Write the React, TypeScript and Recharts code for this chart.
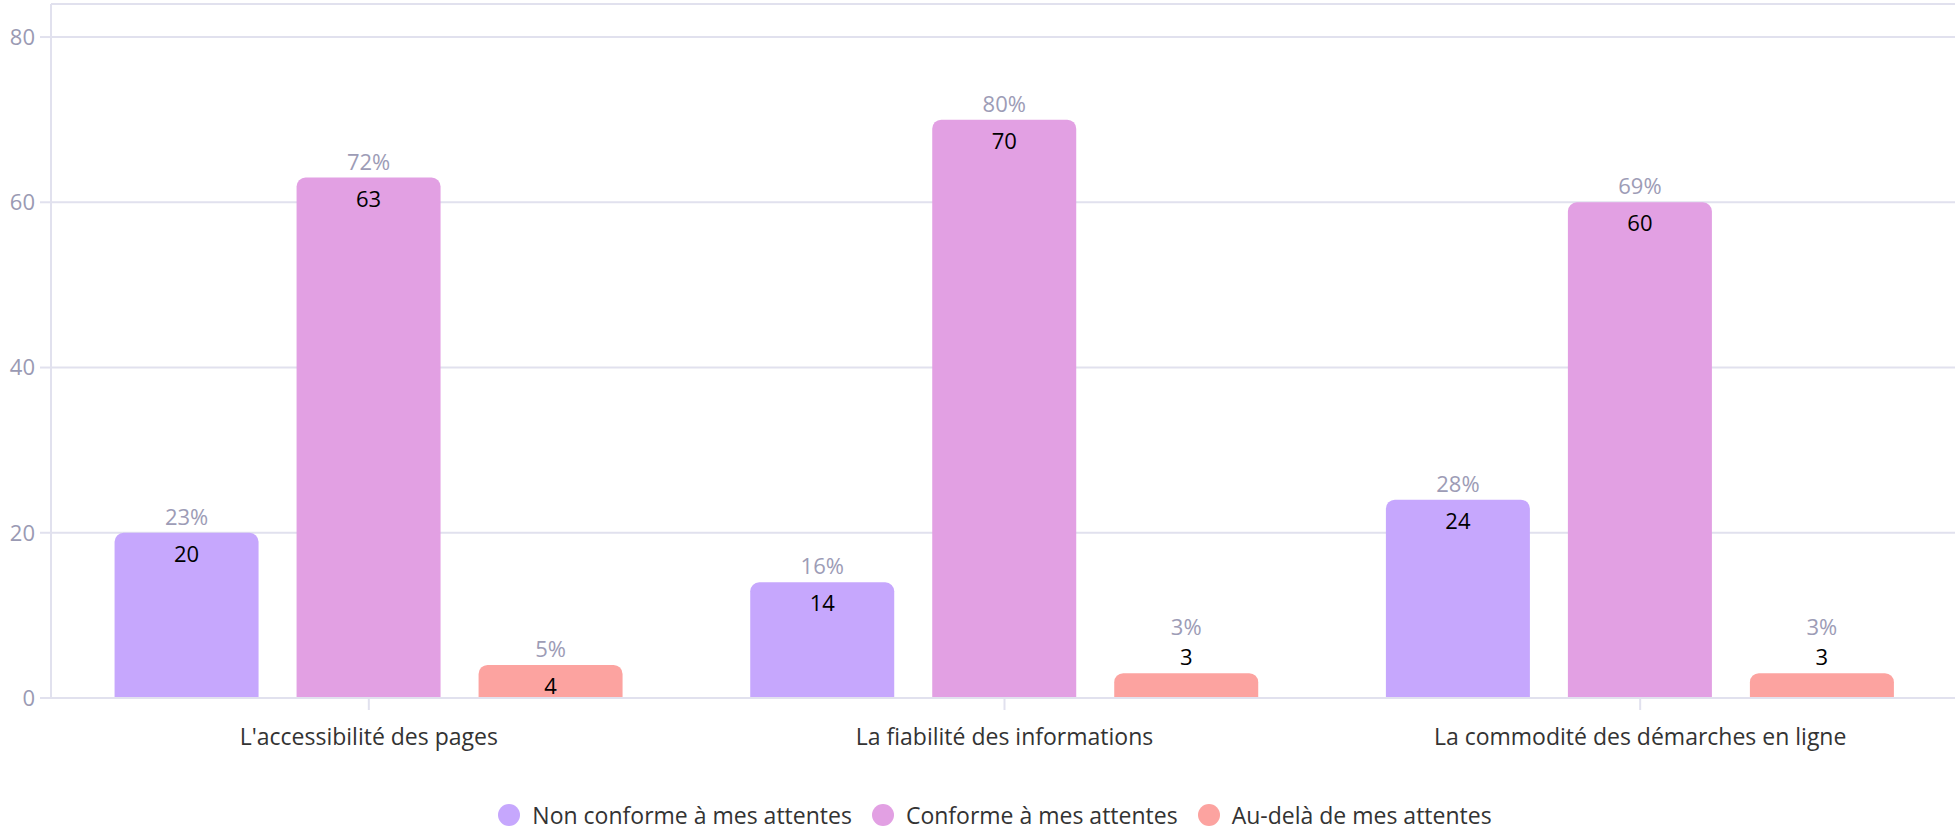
import {
  Bar,
  BarChart,
  CartesianGrid,
  Legend,
  ReferenceLine,
  XAxis,
  YAxis,
} from "recharts";

const CATEGORIES = [
  "L'accessibilité des pages",
  "La fiabilité des informations",
  "La commodité des démarches en ligne",
];
const NON_CONFORME = [20, 14, 24];
const CONFORME = [63, 70, 60];
const AU_DELA = [4, 3, 3];
const NON_CONFORME_PCT = [23, 16, 28];
const CONFORME_PCT = [72, 80, 69];
const AU_DELA_PCT = [5, 3, 3];
const Y_TICKS = [0, 20, 40, 60, 80];

const SERIES = [
  { key: "nonConforme", label: "Non conforme à mes attentes", color: "#c6a7fd", pct: NON_CONFORME_PCT },
  { key: "conforme", label: "Conforme à mes attentes", color: "#e2a0e3", pct: CONFORME_PCT },
  { key: "auDela", label: "Au-delà de mes attentes", color: "#fca3a0", pct: AU_DELA_PCT },
];

const FONT = "'Open Sans', sans-serif";
const GRID = "#e1e1ee";

const rows = CATEGORIES.map((name, i) => ({
  name,
  nonConforme: NON_CONFORME[i],
  conforme: CONFORME[i],
  auDela: AU_DELA[i],
}));

function makeLabel(pct: number[]) {
  return (props: any) => {
    const { x, y, width, height, value, index } = props;
    const cx = Number(x) + Number(width) / 2;
    const top = Number(y);
    // short bars: value sits above the bar, percentage above the value
    const small = Number(height) < 28;
    const valueY = small ? top - 17 : top + 20;
    const pctY = small ? top - 47 : top - 17;
    return (
      <g>
        <text x={cx} y={pctY} textAnchor="middle" dominantBaseline="central" fill="#9d9cb6" fontSize={22} fontFamily={FONT}>
          {`${pct[index]}%`}
        </text>
        <text x={cx} y={valueY} textAnchor="middle" dominantBaseline="central" fill="#000" fontSize={22} fontFamily={FONT}>
          {value}
        </text>
      </g>
    );
  };
}

function LegendContent() {
  return (
    <div
      style={{
        height: 71,
        display: "flex",
        justifyContent: "center",
        alignItems: "flex-end",
        paddingBottom: 0,
        boxSizing: "border-box",
        fontFamily: FONT,
        fontSize: 23,
        color: "#333",
        paddingLeft: 52,
      }}
    >
      {SERIES.map((s) => (
        <div key={s.key} style={{ display: "flex", alignItems: "center", marginRight: 20, height: 28 }}>
          <span style={{ width: 22, height: 22, borderRadius: "50%", background: s.color, marginRight: 12 }} />
          <span>{s.label}</span>
        </div>
      ))}
    </div>
  );
}

export default function App() {
  return (
    <div style={{ width: 1955, height: 829, background: "#fff" }}>
      <style>{`body{margin:0}`}</style>
      <BarChart
        width={1955}
        height={829}
        data={rows}
        margin={{ top: 4, right: -3, left: 0, bottom: 0 }}
        barCategoryGap="10%"
        barGap={38}
      >
        <CartesianGrid vertical={false} stroke={GRID} strokeWidth={2} />
        <ReferenceLine y={84} stroke={GRID} strokeWidth={2} />
        <XAxis
          dataKey="name"
          height={60}
          tickSize={12}
          tickMargin={19}
          axisLine={{ stroke: GRID, strokeWidth: 2 }}
          tickLine={{ stroke: GRID, strokeWidth: 2 }}
          tick={{ fill: "#333", fontSize: 23, fontFamily: FONT }}
        />
        <YAxis
          width={51}
          domain={[0, 84]}
          ticks={Y_TICKS}
          tickSize={11}
          tickMargin={5}
          axisLine={{ stroke: GRID, strokeWidth: 2 }}
          tickLine={{ stroke: GRID, strokeWidth: 2 }}
          tick={{ fill: "#9a9ab3", fontSize: 22, fontFamily: FONT }}
        />
        <Legend verticalAlign="bottom" height={71} content={<LegendContent />} />
        {SERIES.map((s) => (
          <Bar
            key={s.key}
            dataKey={s.key}
            name={s.label}
            fill={s.color}
            radius={[9, 9, 0, 0]}
            isAnimationActive={false}
            label={makeLabel(s.pct)}
          />
        ))}
      </BarChart>
    </div>
  );
}
